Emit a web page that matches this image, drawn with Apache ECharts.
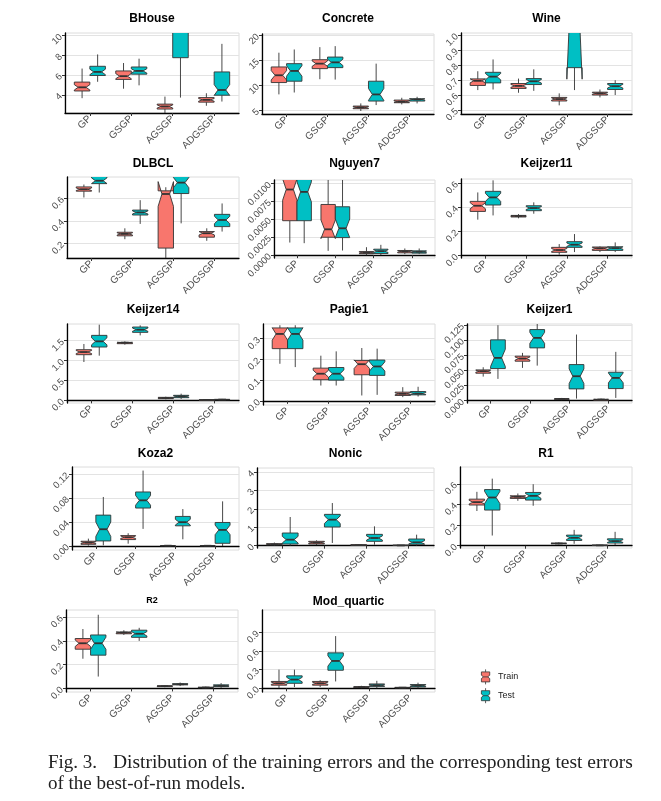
<!DOCTYPE html>
<html>
<head>
<meta charset="utf-8">
<script src="https://cdn.jsdelivr.net/npm/echarts@6/dist/echarts.min.js"></script>
<style>html,body{margin:0;padding:0;background:#fff;}#c{width:661px;height:801px;}</style>
</head>
<body>
<div id="c"></div>
<script>
// ---------- DATA ----------
// each box: [lowerWhisker, Q1, median, Q3, upperWhisker, (optional notch half-width)]
const categories = ['GP', 'GSGP', 'AGSGP', 'ADGSGP'];
const panelNames = ['BHouse','Concrete','Wine','DLBCL','Nguyen7','Keijzer11','Keijzer14','Pagie1','Keijzer1','Koza2','Nonic','R1','R2','Mod_quartic'];
const seriesNames = ['Train', 'Test'];

const bhouseTrain = [[3.67,4.4,4.77,5.3,6.67],[4.63,5.57,5.9,6.43,7.23],[2.1,2.57,2.83,3.07,3.83],[2.9,3.27,3.5,3.73,4.17]];
const bhouseTest  = [[5.33,5.97,6.33,6.9,8.1],[4.97,6.1,6.43,6.83,7.67],[3.73,7.77,12.5,15,20,2.0],[3.33,3.97,4.5,6.33,9.17,0.55]];

const concreteTrain = [[8.2,10.57,12.03,13.7,16.55],[11.24,13.36,14.36,15.15,17.67],[4.87,5.33,5.6,5.86,6.39],[6.19,6.53,6.73,7.06,7.52]];
const concreteTest  = [[8.58,10.84,12.9,14.36,17.2],[11.17,13.56,14.62,15.68,17.87],[6.06,6.86,8.19,10.84,14.36],[6.39,6.86,7.19,7.32,7.72]];

const wineTrain = [[0.633,0.664,0.695,0.708,0.759],[0.615,0.644,0.661,0.677,0.71],[0.531,0.56,0.573,0.584,0.611],[0.584,0.6,0.611,0.619,0.637]];
const wineTest  = [[0.637,0.681,0.723,0.752,0.838],[0.628,0.67,0.692,0.71,0.772],[0.633,0.783,1.3,1.8,2.2,0.594],[0.6,0.637,0.659,0.677,0.699]];

const dlbclTrain = [[0.609,0.665,0.682,0.703,0.724],[0.238,0.268,0.285,0.3,0.335],[0.05,0.159,0.64,0.668,0.7,0.11],[0.224,0.256,0.291,0.306,0.335]];
const dlbclTest  = [[0.653,0.732,0.758,0.80,0.85,0.025],[0.374,0.453,0.476,0.497,0.585],[0.379,0.644,0.741,0.81,0.88,0.045],[0.306,0.35,0.409,0.459,0.556]];

const nguyen7Train = [[0.00176,0.00481,0.00917,0.012,0.016,0.0015],[0.0006,0.0025,0.00361,0.00708,0.0108,0.0013],[0.0,0.00019,0.00032,0.00051,0.00111],[0.00014,0.00032,0.00051,0.00065,0.00093]];
const nguyen7Test  = [[0.00167,0.00481,0.00884,0.0115,0.016,0.0014],[0.00065,0.00245,0.00375,0.00676,0.0108,0.0013],[0.0,0.00023,0.00056,0.00083,0.00144],[0.00014,0.00028,0.00046,0.0006,0.00093]];

const keijzer11Train = [[0.298,0.366,0.413,0.449,0.523],[0.309,0.32,0.328,0.333,0.344],[0.008,0.028,0.047,0.069,0.096],[0.03,0.044,0.061,0.072,0.077]];
const keijzer11Test  = [[0.333,0.419,0.482,0.532,0.623],[0.347,0.372,0.394,0.413,0.441],[0.03,0.069,0.091,0.116,0.179],[0.03,0.044,0.063,0.074,0.11]];

const keijzer14Train = [[0.964,1.148,1.215,1.274,1.417],[1.4,1.425,1.45,1.458,1.484],[0.025,0.042,0.059,0.075,0.092],[0.0,0.005,0.01,0.015,0.025]];
const keijzer14Test  = [[1.123,1.341,1.484,1.634,1.903],[1.634,1.71,1.777,1.844,1.886],[0.034,0.067,0.1,0.126,0.168],[0.005,0.012,0.018,0.025,0.035]];

const pagie1Train = [[0.179,0.252,0.323,0.352,0.365],[0.074,0.102,0.131,0.158,0.218],[0.026,0.126,0.177,0.195,0.255],[0.018,0.026,0.034,0.042,0.066]];
const pagie1Test  = [[0.163,0.252,0.323,0.352,0.365],[0.074,0.1,0.131,0.161,0.239],[0.029,0.123,0.166,0.197,0.252],[0.021,0.029,0.035,0.045,0.068]];

const keijzer1Train = [[0.0398,0.0454,0.0487,0.0509,0.0553],[0.0542,0.0653,0.0697,0.0736,0.0791],[0.0006,0.0017,0.0028,0.0033,0.0044],[0,0.0006,0.0017,0.0022,0.0033]];
const keijzer1Test  = [[0.036,0.0531,0.0708,0.1007,0.125],[0.058,0.0874,0.104,0.1178,0.128],[0.0033,0.0194,0.0404,0.0597,0.1095],[0.0044,0.0199,0.0376,0.047,0.0808]];

const koza2Train = [[0.0006,0.0028,0.0056,0.0079,0.0123],[0.0039,0.0107,0.0146,0.0174,0.0213],[0,0.0003,0.0005,0.0008,0.0012],[0,0.0002,0.0004,0.0007,0.001]];
const koza2Test  = [[0.0011,0.0084,0.028,0.0516,0.0819,0.012],[0.0286,0.0634,0.0763,0.0903,0.126],[0.0112,0.0337,0.0398,0.0494,0.0617],[0,0.0045,0.0269,0.0393,0.0746,0.008]];

const nonicTrain = [[0,0.04,0.07,0.11,0.17],[0.036,0.09,0.163,0.235,0.29],[0,0.02,0.03,0.045,0.06],[0,0.01,0.015,0.025,0.04]];
const nonicTest  = [[0,0.09,0.326,0.688,1.557],[0.145,1.014,1.412,1.701,2.317],[0.054,0.235,0.416,0.615,1.05],[0,0.072,0.181,0.362,0.597]];

const r1Train = [[0.337,0.395,0.423,0.452,0.523],[0.436,0.459,0.475,0.484,0.507],[0.013,0.019,0.022,0.026,0.032],[0,0.002,0.004,0.006,0.008]];
const r1Test  = [[0.099,0.346,0.468,0.545,0.651],[0.388,0.443,0.484,0.517,0.597],[0.019,0.051,0.077,0.103,0.154],[0.006,0.026,0.045,0.067,0.135]];

const r2Train = [[0.25,0.33,0.38,0.42,0.5],[0.45,0.46,0.47,0.475,0.49],[0.01,0.015,0.02,0.022,0.025],[0,0.005,0.008,0.01,0.015]];
const r2Test  = [[0.1,0.28,0.38,0.45,0.62],[0.4,0.43,0.46,0.49,0.51],[0.02,0.03,0.035,0.04,0.05],[0.005,0.015,0.022,0.03,0.045]];

const modQuarticTrain = [[0,0.05,0.08,0.11,0.3],[0.02,0.05,0.08,0.11,0.13],[0,0.01,0.02,0.025,0.04],[0,0.005,0.01,0.015,0.02]];
const modQuarticTest  = [[0.02,0.08,0.14,0.2,0.3],[0.11,0.29,0.44,0.57,0.84],[0,0.03,0.05,0.07,0.12],[0,0.02,0.04,0.06,0.09]];

// y tick values and labels per panel
const yTickValues = [
  [4,6,8,10], [5,10,15,20], [0.5,0.6,0.7,0.8,0.9,1.0], [0.2,0.4,0.6],
  [0,0.0025,0.005,0.0075,0.01], [0,0.2,0.4,0.6], [0,0.5,1.0,1.5], [0,0.1,0.2,0.3],
  [0,0.025,0.05,0.075,0.1,0.125], [0,0.04,0.08,0.12], [0,1,2,3,4], [0,0.2,0.4,0.6],
  [0,0.2,0.4,0.6], [0,0.3,0.6,0.9]
];
const yTickLabels = [
  ['4','6','8','10'], ['5','10','15','20'], ['0.5','0.6','0.7','0.8','0.9','1.0'], ['0.2','0.4','0.6'],
  ['0.0000','0.0025','0.0050','0.0075','0.0100'], ['0.0','0.2','0.4','0.6'], ['0.0','0.5','1.0','1.5'], ['0.0','0.1','0.2','0.3'],
  ['0.000','0.025','0.050','0.075','0.100','0.125'], ['0.00','0.04','0.08','0.12'], ['0','1','2','3','4'], ['0.0','0.2','0.4','0.6'],
  ['0.0','0.2','0.4','0.6'], ['0.0','0.3','0.6','0.9']
];
const captionLine1 = 'Fig. 3.';
const captionLine1b = 'Distribution of the training errors and the corresponding test errors';
const captionLine2 = 'of the best-of-run models.';

const panelTrain = [bhouseTrain, concreteTrain, wineTrain, dlbclTrain, nguyen7Train, keijzer11Train, keijzer14Train, pagie1Train, keijzer1Train, koza2Train, nonicTrain, r1Train, r2Train, modQuarticTrain];
const panelTest  = [bhouseTest, concreteTest, wineTest, dlbclTest, nguyen7Test, keijzer11Test, keijzer14Test, pagie1Test, keijzer1Test, koza2Test, nonicTest, r1Test, r2Test, modQuarticTest];

// ---------- LAYOUT / STYLE ----------
const layout = [
  {l:65,t:33,w:174,h:80,yMin:2.17,yMax:10.27,ty:19},
  {l:262,t:34,w:172,h:80,yMin:4.27,yMax:20.3,ty:19},
  {l:461,t:33,w:171,h:81,yMin:0.473,yMax:1.015,ty:19},
  {l:67,t:177,w:172,h:81,yMin:0.071,yMax:0.791,ty:164},
  {l:274,t:180,w:161,h:78,yMin:-0.0004,yMax:0.0105,ty:164},
  {l:461,t:179,w:171,h:79,yMin:-0.019,yMax:0.634,ty:164},
  {l:67,t:324,w:172,h:79,yMin:-0.067,yMax:1.92,ty:310},
  {l:263,t:324,w:172,h:81,yMin:-0.02,yMax:0.371,ty:310},
  {l:467,t:324,w:165,h:79,yMin:-0.004,yMax:0.127,ty:310},
  {l:72,t:467,w:167,h:83,yMin:-0.0067,yMax:0.132,ty:454},
  {l:257,t:468,w:177,h:80,yMin:-0.127,yMax:4.22,ty:454},
  {l:460,t:467,w:172,h:81,yMin:-0.022,yMax:0.764,ty:454},
  {l:66,t:610,w:172,h:82,yMin:-0.03,yMax:0.66,ty:601,small:true},
  {l:262,t:610,w:173,h:82,yMin:-0.06,yMax:1.26,ty:602}
];
const COLORS = ['#F8766D', '#00BFC4'];
const OUTLINE = '#333333';
const BOX_W = 0.375;
const OFFSETS = [-0.1875, 0.1875];
const NOTCH_FRAC = 0.3; // default notch half-width as a share of the IQR
const LABEL_COLOR = '#4d4d4d';
const FONT = 'Liberation Sans, Arial, sans-serif';
const SERIF = '19px "Liberation Serif", "Times New Roman", serif';

function makeRender(offset) {
  return function (params, api) {
    const cx = api.value(0) + offset;
    const lo = api.value(1), q1 = api.value(2), md = api.value(3), q3 = api.value(4), hi = api.value(5), nh = api.value(6);
    const xl = api.coord([cx - BOX_W / 2, md])[0];
    const xr = api.coord([cx + BOX_W / 2, md])[0];
    const xm = api.coord([cx, md])[0];
    const Y = v => api.coord([cx, v])[1];
    const ind = (xr - xl) * 0.25;
    const nl = md - nh, nu = md + nh;
    const cs = params.coordSys;
    const fill = api.visual('color');
    const pts = [
      [xl, Y(q1)], [xl, Y(nl)], [xl + ind, Y(md)], [xl, Y(nu)], [xl, Y(q3)],
      [xr, Y(q3)], [xr, Y(nu)], [xr - ind, Y(md)], [xr, Y(nl)], [xr, Y(q1)]
    ];
    return {
      type: 'group',
      clipPath: { type: 'rect', shape: { x: cs.x, y: cs.y, width: cs.width, height: cs.height } },
      children: [
        { type: 'line', shape: { x1: xm, y1: Y(q3), x2: xm, y2: Y(hi) }, style: { stroke: OUTLINE, lineWidth: 0.9 } },
        { type: 'line', shape: { x1: xm, y1: Y(q1), x2: xm, y2: Y(lo) }, style: { stroke: OUTLINE, lineWidth: 0.9 } },
        { type: 'polygon', shape: { points: pts }, style: { fill: fill, stroke: OUTLINE, lineWidth: 0.9 } },
        { type: 'line', shape: { x1: xl + ind, y1: Y(md), x2: xr - ind, y2: Y(md) }, style: { stroke: OUTLINE, lineWidth: 1.8 } }
      ]
    };
  };
}

const grids = [], xAxes = [], yAxes = [], series = [], titles = [];
panelNames.forEach((name, i) => {
  const L = layout[i];
  grids.push({ left: L.l, top: L.t, width: L.w, height: L.h, show: true, borderColor: '#dcdcdc', borderWidth: 1, backgroundColor: '#fff' });
  titles.push({
    text: name, left: L.l + L.w / 2, top: L.ty - (L.small ? 5 : 7), textAlign: 'center', padding: 0,
    textStyle: { fontSize: L.small ? 9 : 12, fontWeight: 'bold', color: '#000', fontFamily: FONT, lineHeight: L.small ? 10 : 14 }
  });
  xAxes.push({
    type: 'value', gridIndex: i, min: 0.4, max: 4.6,
    axisLine: { show: true, lineStyle: { color: '#000', width: 1.3 } },
    axisTick: { show: true, length: 3, customValues: [1, 2, 3, 4], lineStyle: { color: '#333', width: 1 } },
    axisLabel: { show: true, customValues: [1, 2, 3, 4], rotate: 45, margin: 4, fontSize: 10, color: LABEL_COLOR, fontFamily: FONT,
      formatter: v => categories[Math.round(v) - 1] || '' },
    splitLine: { show: false }
  });
  const tv = yTickValues[i], tl = yTickLabels[i];
  yAxes.push({
    type: 'value', gridIndex: i, min: L.yMin, max: L.yMax,
    axisLine: { show: true, lineStyle: { color: '#000', width: 1.3 } },
    axisTick: { show: true, length: 3, customValues: tv, lineStyle: { color: '#333', width: 1 } },
    axisLabel: { show: true, customValues: tv, rotate: 45, margin: 4, fontSize: 9.5, color: LABEL_COLOR, fontFamily: FONT,
      formatter: v => { let best = 0; tv.forEach((t, k) => { if (Math.abs(t - v) < Math.abs(tv[best] - v)) best = k; }); return tl[best]; } },
    splitLine: { show: true, lineStyle: { color: '#e3e3e3', width: 1 } }
  });
  [panelTrain[i], panelTest[i]].forEach((boxes, s) => {
    series.push({
      type: 'custom', name: seriesNames[s], xAxisIndex: i, yAxisIndex: i,
      itemStyle: { color: COLORS[s], borderColor: OUTLINE, borderWidth: 1 },
      renderItem: makeRender(OFFSETS[s]),
      encode: { x: 0, y: [1, 2, 3, 4, 5] },
      data: boxes.map((b, k) => [k + 1, b[0], b[1], b[2], b[3], b[4], b.length > 5 ? b[5] : NOTCH_FRAC * (b[3] - b[1])])
    });
  });
});

const legendIcon = 'path://M5,0 L5,3 M0,3 L10,3 L10,7 L7.5,9 L10,11 L10,15 L0,15 L0,11 L2.5,9 L0,7 Z M2.5,9 L7.5,9 M5,15 L5,18';

const option = {
  backgroundColor: '#fff',
  animation: false,
  title: titles,
  grid: grids,
  xAxis: xAxes,
  yAxis: yAxes,
  series: series,
  legend: {
    data: seriesNames, orient: 'vertical', left: 476, top: 664, icon: legendIcon,
    itemWidth: 11, itemHeight: 15, itemGap: 3, selectedMode: false,
    itemStyle: { borderColor: OUTLINE, borderWidth: 0.8 },
    textStyle: { fontSize: 9, color: '#222', fontFamily: FONT, padding: [0, 0, 0, 2] }
  },
  graphic: [
    { type: 'text', left: 48, top: 754, style: { text: captionLine1, font: SERIF, fill: '#222' } },
    { type: 'text', left: 113, top: 754, scaleX: 1.025, style: { text: captionLine1b, font: SERIF, fill: '#222' } },
    { type: 'text', left: 48, top: 775, style: { text: captionLine2, font: SERIF, fill: '#222' } }
  ]
};

const chart = echarts.init(document.getElementById('c'), null, { renderer: 'canvas' });
chart.setOption(option);
</script>
</body>
</html>
